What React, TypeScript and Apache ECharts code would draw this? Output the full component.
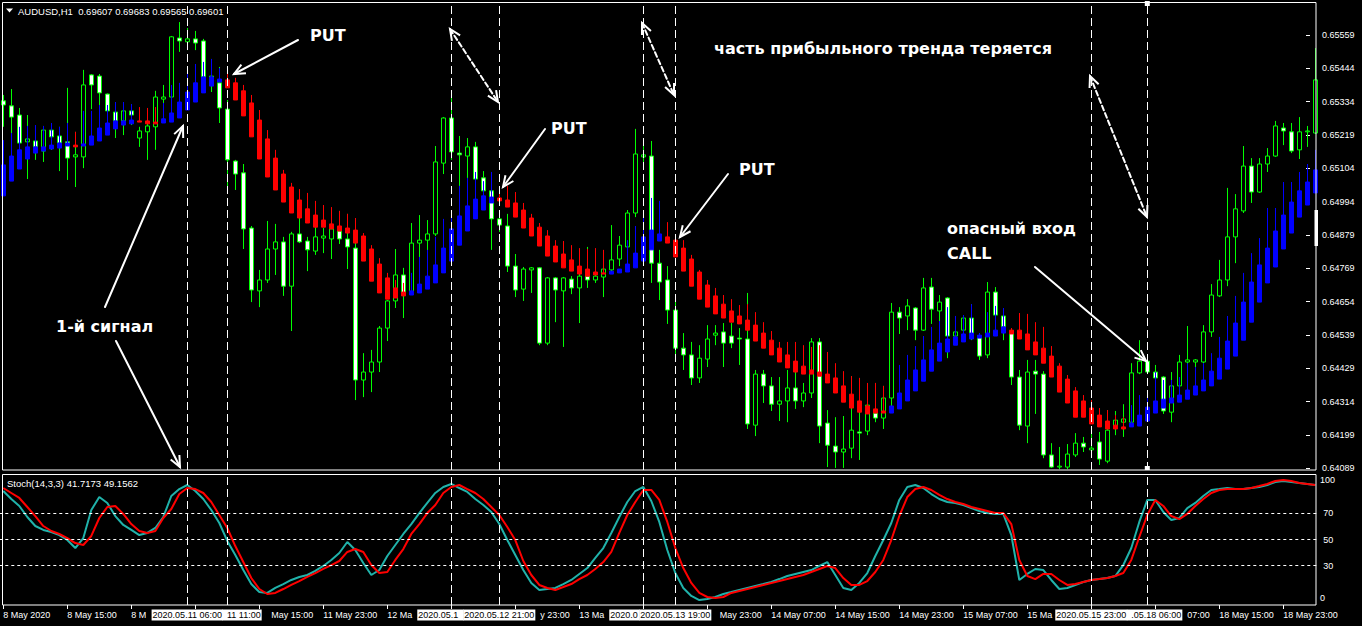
import { useEffect, useRef } from "react";
import * as echarts from "echarts";

// ---------- data (prices stored in points, 1 point = 0.00001) ----------
const POINT = 100000;

const priceTicks = ["0.64089", "0.64199", "0.64314", "0.64429", "0.64539", "0.64654", "0.64769", "0.64879", "0.64994", "0.65104", "0.65219", "0.65334", "0.65444", "0.65559"];
const timeTicks = ["8 May 2020", "8 May 15:00", "8 May 23:00", "11 May 07:00", "11 May 15:00", "11 May 23:00", "12 May 07:00", "12 May 15:00", "12 May 23:00", "13 May 07:00", "13 May 15:00", "13 May 23:00", "14 May 07:00", "14 May 15:00", "14 May 23:00", "15 May 07:00", "15 May 15:00", "15 May 23:00", "18 May 07:00", "18 May 15:00", "18 May 23:00"];
// how the time labels show on the picture where the vertical-line boxes cover them
const tickKeepHead: Record<number, number> = { 2: 3, 6: 5, 9: 5, 16: 5 }; // chars kept from the start
const tickDropHead: Record<number, number> = { 4: 3, 8: 5, 11: 3, 18: 7 }; // chars hidden at the start
const tickHidden = [3, 7, 10, 17];
const stochLevels = [30, 50, 70];
const stochEdgeTicks = ["0", "100"];
const vlineBars = [23, 28, 56, 62, 80, 84, 136, 143];
const vlineTimes = ["2020.05.11 06:00", "2020.05.11 11:00", "2020.05.12 15:00", "2020.05.12 21:00", "2020.05.13 15:00", "2020.05.13 19:00", "2020.05.15 23:00", "2020.05.18 06:00"];
const vlineShown = ["2020.05.11 06:00", "11 11:00", "2020.05.1", "2020.05.12 21:00", "2020.0", "2020.05.13 19:00", "2020.05.15 23:00", ".05.18 06:00"];
const vlineAnchor = ["center", "right", "left", "center", "left", "center", "center", "right"];

const candleOpen = [
  65328, 65311, 65280, 65189, 65192, 65158, 65229, 65209, 65189, 65138,
  65138, 65416, 65412, 65351, 65290, 65260, 65294, 65202, 65223, 65240,
  65334, 65341, 65541, 65528, 65538, 65531, 65402, 65389, 65300, 65124,
  65084, 64897, 64684, 64721, 64826, 64850, 64700, 64877, 64853, 64819,
  64863, 64860, 64887, 64860, 64829, 64382, 64409, 64443, 64558, 64650,
  64738, 64677, 64846, 64856, 64877, 65117, 65270, 65151, 65141, 65172,
  65067, 65023, 64928, 64904, 64768, 64690, 64755, 64762, 64507, 64728,
  64684, 64724, 64694, 64734, 64721, 64731, 64755, 64792, 64833, 64948,
  65138, 65141, 64778, 64721, 64619, 64490, 64467, 64389, 64453, 64534,
  64545, 64531, 64524, 64521, 64229, 64402, 64362, 64300, 64311, 64355,
  64311, 64338, 64511, 64236, 64158, 64138, 64151, 64206, 64209, 64270,
  64253, 64321, 64612, 64599, 64626, 64551, 64697, 64616, 64660, 64531,
  64551, 64592, 64531, 64467, 64680, 64599, 64548, 64392, 64226, 64412,
  64402, 64128, 64087, 64087, 64128, 64168, 64145, 64172, 64107, 64226,
  64239, 64239, 64406, 64446, 64409, 64392, 64273, 64362, 64443, 64443,
  64443, 64545, 64667, 64721, 64867, 64955, 65107, 65019, 65114, 65141,
  65236, 65223, 65162, 65223, 65219,
];
const candleHigh = [
  65348, 65368, 65304, 65280, 65243, 65243, 65253, 65240, 65372, 65223,
  65433, 65419, 65419, 65353, 65324, 65324, 65317, 65240, 65273, 65362,
  65382, 65548, 65595, 65575, 65565, 65538, 65470, 65443, 65331, 65128,
  65114, 64904, 64755, 64921, 64911, 64867, 64884, 64931, 64867, 64900,
  64897, 64924, 64955, 64945, 64931, 64473, 64484, 64565, 64653, 64826,
  64762, 64914, 64941, 64924, 65175, 65273, 65351, 65209, 65202, 65189,
  65090, 65087, 64948, 64945, 64809, 64765, 64765, 64765, 64731, 64731,
  64731, 64734, 64823, 64833, 64745, 64765, 64907, 64870, 64958, 65233,
  65192, 65192, 64823, 64768, 64653, 64541, 64511, 64500, 64568, 64568,
  64575, 64575, 64558, 64677, 64416, 64416, 64392, 64392, 64416, 64409,
  64372, 64524, 64524, 64280, 64256, 64260, 64395, 64389, 64338, 64372,
  64362, 64643, 64629, 64656, 64629, 64728, 64728, 64670, 64663, 64599,
  64602, 64639, 64541, 64714, 64697, 64626, 64558, 64416, 64450, 64450,
  64412, 64168, 64155, 64165, 64202, 64189, 64202, 64206, 64280, 64277,
  64300, 64439, 64517, 64460, 64433, 64395, 64409, 64467, 64565, 64453,
  64568, 64707, 64789, 65033, 65012, 65175, 65134, 65134, 65168, 65260,
  65253, 65253, 65273, 65243, 65507,
];
const candleLow = [
  65240, 65219, 65162, 65063, 65128, 65121, 65162, 65090, 65060, 65036,
  65100, 65300, 65297, 65253, 65202, 65212, 65246, 65172, 65128, 65162,
  65267, 65273, 65494, 65500, 65500, 65358, 65358, 65253, 65016, 65026,
  64826, 64646, 64629, 64711, 64738, 64667, 64548, 64846, 64751, 64806,
  64812, 64792, 64843, 64758, 64314, 64324, 64341, 64409, 64514, 64626,
  64592, 64670, 64697, 64799, 64870, 65080, 65128, 64880, 65060, 65043,
  65009, 64823, 64884, 64748, 64663, 64650, 64677, 64500, 64500, 64578,
  64494, 64673, 64575, 64694, 64711, 64663, 64745, 64768, 64823, 64934,
  65094, 64711, 64653, 64572, 64443, 64416, 64365, 64372, 64426, 64500,
  64426, 64490, 64433, 64216, 64192, 64304, 64277, 64243, 64239, 64284,
  64290, 64321, 64168, 64087, 64084, 64084, 64117, 64111, 64195, 64239,
  64216, 64290, 64538, 64551, 64517, 64548, 64572, 64460, 64456, 64511,
  64517, 64517, 64450, 64456, 64585, 64517, 64365, 64212, 64168, 64267,
  64117, 64084, 64080, 64080, 64121, 64138, 64121, 64094, 64100, 64195,
  64189, 64223, 64402, 64402, 64375, 64267, 64239, 64358, 64416, 64426,
  64439, 64528, 64663, 64700, 64778, 64948, 64982, 65016, 65087, 65138,
  65178, 65151, 65131, 65172, 65216,
];
const candleClose = [
  65314, 65273, 65185, 65199, 65172, 65229, 65206, 65185, 65134, 65145,
  65382, 65382, 65355, 65294, 65260, 65294, 65280, 65226, 65243, 65341,
  65341, 65545, 65531, 65538, 65524, 65409, 65412, 65304, 65128, 65080,
  64894, 64687, 64721, 64826, 64850, 64700, 64877, 64850, 64823, 64867,
  64870, 64894, 64860, 64833, 64382, 64409, 64443, 64558, 64650, 64738,
  64677, 64846, 64856, 64877, 65121, 65270, 65155, 65145, 65172, 65063,
  65023, 64928, 64907, 64768, 64687, 64758, 64762, 64507, 64728, 64687,
  64728, 64694, 64734, 64721, 64734, 64758, 64789, 64839, 64948, 65148,
  65145, 64778, 64714, 64619, 64490, 64467, 64389, 64456, 64521, 64541,
  64507, 64507, 64521, 64233, 64402, 64362, 64300, 64311, 64355, 64311,
  64338, 64511, 64226, 64161, 64138, 64148, 64212, 64202, 64297, 64253,
  64321, 64612, 64592, 64633, 64551, 64694, 64622, 64646, 64531, 64545,
  64592, 64538, 64463, 64680, 64602, 64562, 64392, 64229, 64409, 64402,
  64128, 64087, 64090, 64131, 64168, 64155, 64151, 64114, 64212, 64246,
  64250, 64406, 64446, 64409, 64389, 64277, 64362, 64443, 64450, 64450,
  64545, 64670, 64721, 64867, 64962, 65107, 65019, 65114, 65141, 65243,
  65226, 65158, 65223, 65226, 65399,
];

// smoothed Heiken Ashi overlay (blue up / red down)
const haOpen = [
  65006, 65056, 65097, 65131, 65151, 65158, 65165, 65168, 65175, 65178,
  65175, 65178, 65192, 65212, 65233, 65246, 65250, 65260, 65260, 65256,
  65253, 65256, 65270, 65297, 65324, 65355, 65378, 65392, 65399, 65389,
  65362, 65321, 65263, 65199, 65134, 65080, 65036, 64992, 64962, 64941,
  64924, 64911, 64904, 64897, 64890, 64870, 64826, 64775, 64728, 64694,
  64680, 64670, 64677, 64690, 64711, 64745, 64785, 64839, 64887, 64928,
  64958, 64982, 64999, 64992, 64982, 64958, 64931, 64900, 64870, 64836,
  64809, 64789, 64768, 64758, 64748, 64745, 64741, 64745, 64748, 64762,
  64785, 64823, 64853, 64867, 64856, 64829, 64792, 64748, 64704, 64667,
  64639, 64616, 64599, 64585, 64568, 64541, 64517, 64490, 64467, 64446,
  64429, 64416, 64409, 64402, 64389, 64362, 64334, 64311, 64294, 64284,
  64277, 64270, 64284, 64311, 64345, 64378, 64412, 64446, 64477, 64500,
  64511, 64521, 64524, 64528, 64531, 64541, 64551, 64551, 64538, 64511,
  64490, 64463, 64429, 64385, 64345, 64311, 64287, 64263, 64243, 64229,
  64223, 64223, 64226, 64243, 64270, 64287, 64304, 64307, 64317, 64331,
  64345, 64362, 64385, 64419, 64463, 64517, 64578, 64646, 64711, 64765,
  64826, 64880, 64934, 64975, 65016,
];
const haClose = [
  65111, 65141, 65162, 65172, 65172, 65172, 65178, 65185, 65185, 65172,
  65182, 65209, 65236, 65253, 65260, 65260, 65263, 65256, 65250, 65250,
  65267, 65287, 65324, 65358, 65389, 65409, 65409, 65402, 65372, 65331,
  65277, 65206, 65131, 65070, 65026, 64985, 64948, 64931, 64914, 64900,
  64900, 64894, 64887, 64880, 64846, 64785, 64717, 64677, 64656, 64660,
  64667, 64684, 64707, 64734, 64772, 64829, 64894, 64938, 64972, 64995,
  65006, 65002, 64989, 64968, 64934, 64897, 64870, 64836, 64802, 64782,
  64762, 64751, 64741, 64734, 64738, 64741, 64751, 64758, 64775, 64812,
  64867, 64890, 64877, 64846, 64799, 64751, 64700, 64656, 64629, 64606,
  64592, 64578, 64572, 64551, 64514, 64490, 64467, 64443, 64423, 64409,
  64402, 64402, 64395, 64372, 64338, 64307, 64287, 64273, 64267, 64270,
  64270, 64294, 64338, 64382, 64416, 64450, 64484, 64507, 64521, 64528,
  64538, 64541, 64534, 64541, 64551, 64562, 64538, 64521, 64484, 64467,
  64439, 64392, 64341, 64304, 64256, 64256, 64233, 64223, 64216, 64216,
  64216, 64236, 64263, 64290, 64311, 64317, 64321, 64331, 64348, 64362,
  64382, 64412, 64456, 64514, 64575, 64646, 64714, 64772, 64829, 64887,
  64941, 64985, 65023, 65053, 65094,
];
const haHigh = [
  65195, 65219, 65240, 65243, 65246, 65243, 65253, 65240, 65253, 65223,
  65294, 65294, 65314, 65314, 65324, 65324, 65317, 65307, 65304, 65307,
  65321, 65382, 65389, 65419, 65453, 65460, 65470, 65439, 65436, 65406,
  65382, 65348, 65297, 65229, 65162, 65094, 65050, 65029, 65016, 64989,
  64975, 64968, 64955, 64945, 64931, 64880, 64839, 64795, 64745, 64721,
  64711, 64745, 64799, 64823, 64867, 64928, 64948, 65040, 65067, 65087,
  65056, 65087, 65026, 65040, 65019, 64982, 64945, 64914, 64890, 64856,
  64853, 64839, 64829, 64826, 64829, 64823, 64751, 64758, 64856, 64904,
  64948, 64999, 64989, 64917, 64867, 64856, 64806, 64755, 64721, 64694,
  64670, 64656, 64636, 64639, 64612, 64578, 64548, 64511, 64511, 64511,
  64500, 64494, 64500, 64477, 64439, 64412, 64395, 64389, 64372, 64372,
  64362, 64294, 64433, 64467, 64497, 64531, 64562, 64582, 64629, 64599,
  64602, 64639, 64541, 64612, 64633, 64626, 64558, 64609, 64606, 64578,
  64562, 64497, 64439, 64399, 64358, 64331, 64314, 64287, 64280, 64263,
  64256, 64297, 64331, 64331, 64409, 64382, 64382, 64392, 64439, 64426,
  64439, 64473, 64528, 64599, 64667, 64745, 64812, 64863, 64965, 64965,
  65053, 65053, 65087, 65114, 65162,
];

// Stoch(14,3,3)
const stochMain = [
  87.0, 80.9, 75.6, 67.2, 60.3, 57.3, 55.7, 53.4, 49.6, 43.5,
  51.1, 72.5, 82.4, 77.9, 67.9, 61.1, 57.3, 53.4, 55.0, 58.8,
  67.2, 83.2, 88.5, 91.6, 87.0, 80.9, 72.5, 62.6, 48.9, 38.2,
  26.7, 16.0, 9.9, 9.2, 13.0, 16.0, 19.1, 21.4, 22.9, 26.0,
  29.8, 34.4, 39.7, 48.1, 42.0, 32.1, 22.9, 26.7, 37.4, 45.8,
  54.2, 61.8, 70.2, 77.9, 85.5, 90.1, 92.4, 89.3, 86.3, 80.9,
  76.3, 71.0, 61.8, 49.6, 38.2, 26.7, 16.8, 11.5, 12.2, 13.0,
  16.0, 19.1, 23.7, 28.2, 35.9, 43.5, 55.0, 67.2, 78.6, 87.0,
  90.1, 79.4, 63.4, 42.0, 24.4, 13.0, 6.9, 3.8, 4.6, 6.1,
  8.4, 9.9, 11.5, 13.0, 14.5, 16.0, 17.6, 19.8, 22.1, 23.7,
  25.2, 26.7, 29.8, 32.8, 22.9, 13.0, 11.5, 16.8, 24.4, 37.4,
  49.6, 62.6, 80.2, 90.1, 91.6, 89.3, 84.7, 80.9, 78.6, 77.9,
  76.3, 74.0, 71.8, 70.2, 69.5, 69.5, 53.4, 19.1, 23.7, 27.5,
  26.7, 19.1, 12.2, 13.0, 15.3, 17.6, 19.1, 19.8, 20.6, 22.1,
  30.5, 43.5, 63.4, 80.2, 80.2, 71.0, 64.9, 66.4, 74.0, 77.9,
  83.2, 87.8, 88.5, 89.3, 88.5, 88.5, 89.3, 90.1, 91.6, 93.9,
  94.7, 93.9, 93.1, 92.4, 91.6,
];
const stochSignal = [
  89.3, 85.5, 81.7, 74.8, 67.9, 60.3, 56.5, 54.2, 51.1, 47.3,
  45.8, 52.7, 66.4, 74.8, 75.6, 69.5, 61.8, 56.5, 55.0, 56.5,
  66.4, 73.3, 84.7, 89.3, 88.5, 85.5, 78.6, 68.7, 58.8, 45.0,
  32.8, 20.6, 12.2, 8.4, 9.2, 12.2, 15.3, 18.3, 21.4, 24.4,
  27.5, 30.5, 33.6, 40.5, 42.7, 40.5, 30.5, 24.4, 25.2, 34.4,
  42.7, 54.2, 61.8, 70.2, 76.3, 85.5, 90.1, 91.6, 88.5, 85.5,
  80.9, 74.8, 68.7, 59.5, 49.6, 33.6, 22.9, 15.3, 13.0, 11.5,
  13.7, 16.0, 19.8, 22.9, 27.5, 32.8, 40.5, 55.0, 68.7, 78.6,
  87.8, 87.8, 80.2, 63.4, 43.5, 28.2, 16.8, 9.2, 6.1, 5.3,
  6.1, 9.2, 10.7, 12.2, 13.7, 15.3, 16.8, 18.3, 19.8, 21.4,
  22.9, 25.2, 27.5, 29.8, 28.2, 20.6, 15.3, 15.3, 18.3, 25.2,
  34.4, 49.6, 67.9, 82.4, 88.5, 90.1, 87.8, 84.0, 80.9, 78.6,
  77.1, 74.8, 73.3, 71.8, 70.2, 70.2, 61.8, 34.4, 22.1, 19.8,
  23.7, 23.7, 19.1, 15.3, 16.0, 17.6, 19.1, 19.8, 20.6, 22.1,
  24.4, 34.4, 51.9, 68.7, 80.2, 75.6, 67.9, 65.6, 69.5, 75.6,
  80.9, 85.5, 87.8, 88.5, 88.5, 88.5, 89.3, 90.8, 92.4, 94.7,
  95.4, 94.7, 93.1, 92.4, 91.6,
];

// ---------- annotation layer (hand-drawn notes on the screenshot) ----------
const noteTexts = [
  { text: "PUT", x: 310, y: 35 },
  { text: "PUT", x: 551, y: 128 },
  { text: "PUT", x: 739, y: 169 },
  { text: "1-й сигнал", x: 56, y: 326 },
  { text: "часть прибыльного тренда теряется", x: 714, y: 48 },
  { text: "опасный вход", x: 947, y: 228 },
  { text: "CALL", x: 947, y: 253 },
];
const noteArrows = [
  { x1: 298, y1: 40, x2: 234, y2: 74, dashed: false, both: false },
  { x1: 105, y1: 307, x2: 183, y2: 126, dashed: false, both: false },
  { x1: 116, y1: 341, x2: 180, y2: 467, dashed: false, both: false },
  { x1: 545, y1: 129, x2: 503, y2: 187, dashed: false, both: false },
  { x1: 728, y1: 174, x2: 680, y2: 237, dashed: false, both: false },
  { x1: 1035, y1: 267, x2: 1146, y2: 361, dashed: false, both: false },
  { x1: 450, y1: 29, x2: 498, y2: 102, dashed: true, both: true },
  { x1: 642, y1: 23, x2: 674, y2: 95, dashed: true, both: true },
  { x1: 1090, y1: 76, x2: 1147, y2: 217, dashed: true, both: true },
];

const AXIS_FONT = "'Liberation Sans', Arial, sans-serif";
const NOTE_FONT = "'DejaVu Sans', sans-serif";
const WHITE = "#ffffff";
const LABEL_TOP = 610;

function head(xa: number, ya: number, xb: number, yb: number) {
  const a = Math.atan2(yb - ya, xb - xa);
  const len = 12;
  const sp = 0.42;
  return [
    [xb - len * Math.cos(a - sp), yb - len * Math.sin(a - sp)],
    [xb, yb],
    [xb - len * Math.cos(a + sp), yb - len * Math.sin(a + sp)],
  ];
}

export default function App() {
  const ref = useRef<HTMLDivElement>(null);

  useEffect(() => {
    const el = ref.current;
    if (!el) return;
    const chart = echarts.init(el, null, { renderer: "svg" });
    const n = candleOpen.length;
    const cats = Array.from({ length: n }, (_, i) => String(i));
    const p = (v: number) => v / POINT;

    const ctx = document.createElement("canvas").getContext("2d") as CanvasRenderingContext2D;
    ctx.font = "9px 'Liberation Sans', Arial, sans-serif";
    const tw = (s: string) => ctx.measureText(s).width;

    const candles = cats.map((_, i) => [p(candleOpen[i]), p(candleClose[i]), p(candleLow[i]), p(candleHigh[i])]);
    const ha = cats.map((_, i) => [p(haOpen[i]), p(haClose[i]), p(Math.min(haOpen[i], haClose[i])), p(haHigh[i])]);

    const vDash = { color: WHITE, width: 1, type: [8, 4] as any };

    const tickText = (k: number) => {
      const full = timeTicks[k] ?? "";
      if (tickHidden.includes(k) || tickDropHead[k] !== undefined) return "";
      if (tickKeepHead[k] !== undefined) return full.slice(0, tickKeepHead[k]);
      return full;
    };

    const option: any = {
      animation: false,
      backgroundColor: "#000000",
      textStyle: { fontFamily: AXIS_FONT },
      grid: [
        { left: -0.7, width: 1320, top: 2.3, height: 467.7, containLabel: false, outerBoundsMode: "none" },
        { right: 46, width: 10, top: 35, height: 433.3, containLabel: false, outerBoundsMode: "none" },
        { left: -0.7, width: 1320, top: 474, height: 131, containLabel: false, outerBoundsMode: "none" },
        { right: 46, width: 10, top: 480, height: 118.3, containLabel: false, outerBoundsMode: "none" },
      ],
      xAxis: [
        { gridIndex: 0, type: "category", data: cats, boundaryGap: true, show: false },
        { gridIndex: 1, type: "value", show: false },
        {
          gridIndex: 2,
          type: "category",
          data: cats,
          boundaryGap: true,
          axisLine: { show: false },
          axisTick: { show: true, interval: 7, alignWithLabel: true, length: 4, lineStyle: { color: WHITE } },
          axisLabel: {
            show: true,
            interval: 7,
            align: "left",
            margin: LABEL_TOP - 605,
            color: WHITE,
            fontSize: 9,
            fontFamily: AXIS_FONT,
            formatter: (_v: string, idx: number) => (idx % 8 === 0 ? tickText(idx / 8) : ""),
          },
          splitLine: { show: false },
        },
        { gridIndex: 3, type: "value", show: false },
      ],
      yAxis: [
        { gridIndex: 0, type: "value", min: 0.64077, max: 0.65662, show: false },
        {
          gridIndex: 1,
          type: "category",
          data: priceTicks,
          boundaryGap: false,
          position: "right",
          axisLine: { show: false },
          axisTick: { show: true, length: 4, interval: 0, lineStyle: { color: WHITE } },
          axisLabel: { show: true, interval: 0, margin: 6, color: WHITE, fontSize: 9, fontFamily: AXIS_FONT },
          splitLine: { show: false },
        },
        {
          gridIndex: 2,
          type: "value",
          min: 0,
          max: 100,
          interval: 10,
          position: "right",
          axisLine: { show: false },
          axisTick: { show: false },
          splitLine: { show: false },
          axisLabel: {
            show: true,
            margin: 4,
            color: WHITE,
            fontSize: 9,
            fontFamily: AXIS_FONT,
            formatter: (v: number) => (stochLevels.includes(v) ? String(v) : ""),
          },
        },
        {
          gridIndex: 3,
          type: "category",
          data: stochEdgeTicks,
          boundaryGap: false,
          position: "right",
          axisLine: { show: false },
          axisTick: { show: false },
          axisLabel: { show: true, interval: 0, margin: 4, color: WHITE, fontSize: 9, fontFamily: AXIS_FONT },
          splitLine: { show: false },
        },
      ],
      series: [
        {
          name: "AUDUSD",
          type: "candlestick",
          xAxisIndex: 0,
          yAxisIndex: 0,
          data: candles,
          barWidth: 4,
          silent: true,
          z: 2,
          itemStyle: { color: "#000000", color0: "#ffffff", borderColor: "#00ff00", borderColor0: "#00ff00", borderColorDoji: "#00ff00", borderWidth: 1 },
        },
        {
          name: "HA",
          type: "candlestick",
          xAxisIndex: 0,
          yAxisIndex: 0,
          data: ha,
          barWidth: 5,
          silent: true,
          z: 3,
          itemStyle: { color: "#0000ff", color0: "#ff0000", borderColor: "#0000ff", borderColor0: "#ff0000", borderColorDoji: "#ff0000", borderWidth: 1 },
          markLine: {
            silent: true,
            symbol: "none",
            label: { show: false },
            lineStyle: vDash,
            data: vlineBars.map((b) => ({ xAxis: b })),
          },
        },
        {
          name: "Main",
          type: "line",
          xAxisIndex: 2,
          yAxisIndex: 2,
          data: stochMain,
          showSymbol: false,
          silent: true,
          z: 3,
          lineStyle: { color: "#20b2aa", width: 2 },
          itemStyle: { color: "#20b2aa" },
          markLine: {
            silent: true,
            symbol: "none",
            label: { show: false },
            data: [
              ...stochLevels.map((v) => ({ yAxis: v, lineStyle: { color: WHITE, width: 1, type: [3, 3] } })),
              ...vlineBars.map((b) => ({ xAxis: b, lineStyle: vDash })),
            ],
          },
        },
        {
          name: "Signal",
          type: "line",
          xAxisIndex: 2,
          yAxisIndex: 2,
          data: stochSignal,
          showSymbol: false,
          silent: true,
          z: 4,
          lineStyle: { color: "#ff0000", width: 2 },
          itemStyle: { color: "#ff0000" },
        },
      ],
    };
    chart.setOption(option);

    const barX = (b: number) => chart.convertToPixel({ xAxisIndex: 2 }, b) as number;

    // graphic overlay
    const els: any[] = [];
    // panel frames
    els.push({ type: "rect", z: 50, silent: true, shape: { x: 2.5, y: 2.5, width: 1313.5, height: 467.5 }, style: { fill: "none", stroke: WHITE, lineWidth: 1 } });
    els.push({ type: "rect", z: 50, silent: true, shape: { x: 2.5, y: 474.5, width: 1313.5, height: 130.5 }, style: { fill: "none", stroke: WHITE, lineWidth: 1 } });
    // chart markers
    els.push({ type: "rect", z: 51, silent: true, shape: { x: 1314.5, y: 210, width: 3.5, height: 36 }, style: { fill: WHITE } });
    const selX = barX(vlineBars[7]);
    els.push({ type: "rect", z: 51, silent: true, shape: { x: selX - 2.5, y: 1, width: 5, height: 5 }, style: { fill: WHITE } });
    els.push({ type: "rect", z: 51, silent: true, shape: { x: selX - 2.5, y: 466, width: 5, height: 4 }, style: { fill: WHITE } });

    // title texts
    els.push({ type: "polygon", z: 60, silent: true, shape: { points: [[6, 8.5], [13, 8.5], [9.5, 12.5]] }, style: { fill: WHITE } });
    els.push({
      type: "text", z: 60, silent: true, x: 18, y: 11,
      style: { text: "AUDUSD,H1  0.69607 0.69683 0.69565 0.69601", fill: WHITE, fontSize: 9.5, fontFamily: AXIS_FONT, verticalAlign: "middle", align: "left" },
    });
    els.push({
      type: "text", z: 60, silent: true, x: 7, y: 483,
      style: { text: "Stoch(14,3,3) 41.7173 49.1562", fill: WHITE, fontSize: 9.5, fontFamily: AXIS_FONT, verticalAlign: "middle", align: "left" },
    });

    // time labels whose start is hidden under a vertical-line box
    Object.keys(tickDropHead).forEach((key) => {
      const k = Number(key);
      const full = timeTicks[k];
      const cut = tickDropHead[k];
      els.push({
        type: "text", z: 60, silent: true, x: barX(k * 8) + tw(full.slice(0, cut)), y: LABEL_TOP,
        style: { text: full.slice(cut), fill: WHITE, fontSize: 9, fontFamily: AXIS_FONT, align: "left", verticalAlign: "top" },
      });
    });

    // time-scale boxes of the vertical lines (a later box partly covers/abuts its neighbour)
    const boxStart = vlineBars.map((b, k) => barX(b) - tw(vlineTimes[k]) / 2);
    const boxEnd = vlineBars.map((b, k) => barX(b) + tw(vlineTimes[k]) / 2);
    vlineBars.forEach((b, k) => {
      const cx = barX(b);
      const anchor = vlineAnchor[k];
      const w = tw(vlineShown[k]);
      let x = cx;
      let pad = [1, 1, 1, 1];
      if (anchor === "left") {
        x = boxStart[k] + 1;
        const room = boxStart[k + 1] - 1 - x;
        pad = [1, Math.max(1, room - w - 0.5), 1, 1];
      } else if (anchor === "right") {
        x = boxEnd[k];
        const room = x - (boxEnd[k - 1] + 1);
        pad = [1, 1, 1, Math.max(1, room - w - 0.5)];
      }
      els.push({
        type: "text", z: 70, silent: true, x, y: LABEL_TOP - 0.5,
        style: {
          text: vlineShown[k], fill: "#000000", backgroundColor: WHITE, padding: pad,
          fontSize: 9, fontFamily: AXIS_FONT, align: anchor, verticalAlign: "top",
        },
      });
    });

    // hand-drawn notes
    noteArrows.forEach((a) => {
      const st = { stroke: WHITE, lineWidth: 2, fill: "none", lineDash: a.dashed ? [5, 3] : null, lineCap: "round" };
      els.push({ type: "line", z: 80, silent: true, shape: { x1: a.x1, y1: a.y1, x2: a.x2, y2: a.y2 }, style: st });
      els.push({ type: "polyline", z: 80, silent: true, shape: { points: head(a.x1, a.y1, a.x2, a.y2) }, style: { stroke: WHITE, lineWidth: 2, fill: "none" } });
      if (a.both) {
        els.push({ type: "polyline", z: 80, silent: true, shape: { points: head(a.x2, a.y2, a.x1, a.y1) }, style: { stroke: WHITE, lineWidth: 2, fill: "none" } });
      }
    });
    noteTexts.forEach((t) => {
      els.push({
        type: "text", z: 80, silent: true, x: t.x, y: t.y,
        style: { text: t.text, fill: WHITE, fontSize: 16, fontWeight: "bold", fontFamily: NOTE_FONT, verticalAlign: "middle", align: "left" },
      });
    });

    chart.setOption({ graphic: { elements: els } });

    return () => chart.dispose();
  }, []);

  return <div ref={ref} style={{ position: "fixed", left: 0, top: 0, width: 1362, height: 626 }} />;
}
